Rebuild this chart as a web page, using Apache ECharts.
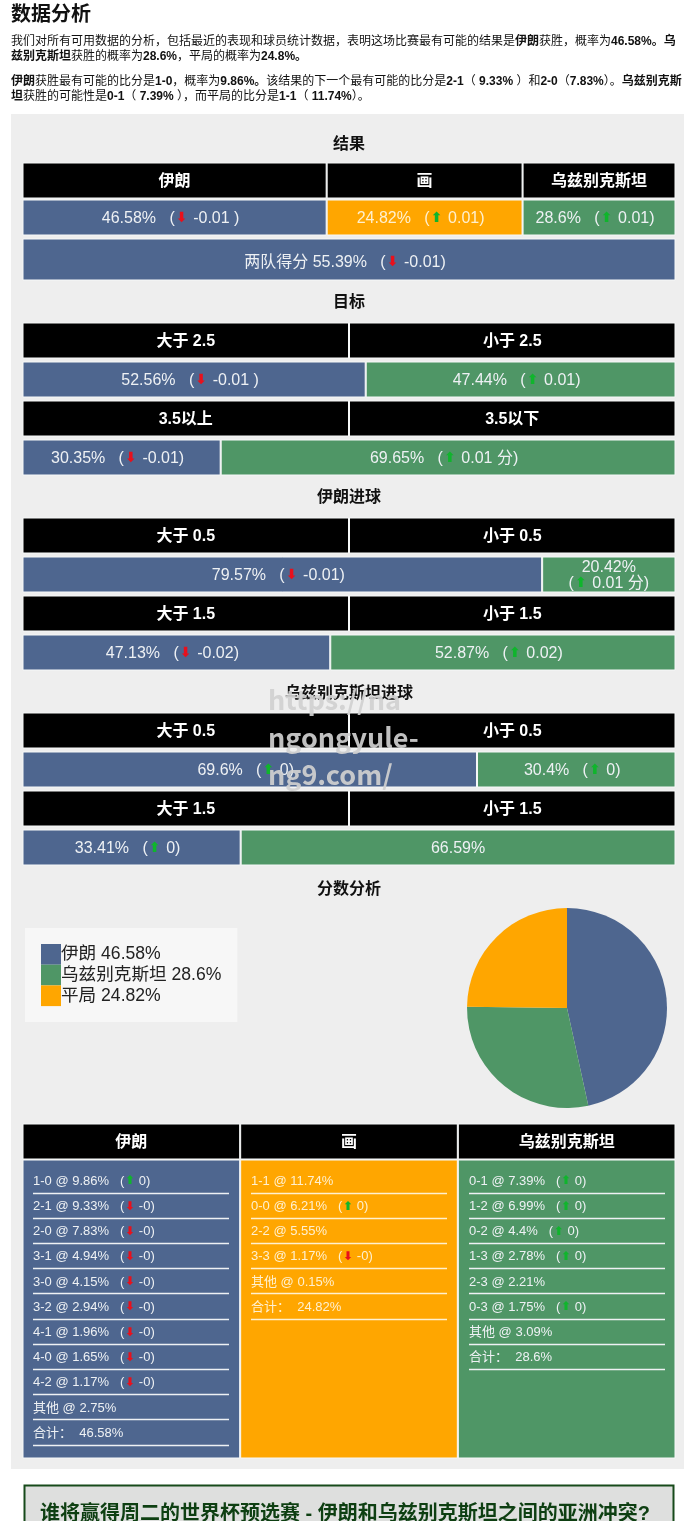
<!DOCTYPE html>
<html>
<head>
<meta charset="utf-8">
<title>数据分析</title>
<script src="https://cdn.jsdelivr.net/npm/echarts@6/dist/echarts.min.js"></script>
<style>
html,body{margin:0;padding:0;background:#fff;overflow:hidden}
#main{width:684px;height:1521px}
</style>
</head>
<body>
<div id="main"></div>
<script>
// 结果
const resultHeads = ['伊朗', '画', '乌兹别克斯坦'];
const resultValues = [46.58, 24.82, 28.6];
const resultDeltas = ['-0.01 )', '0.01)', '0.01)'];
// the source table stretches this row, its cells are not proportional to the values
const resultCellShares = [46.58, 30, 23.42];
const bothScoreValue = 55.39;
const bothScoreDelta = '-0.01)';

// 目标
const over25Heads = ['大于 2.5', '小于 2.5'];
const over25Values = [52.56, 47.44];
const over25Deltas = ['-0.01 )', '0.01)'];
const over35Heads = ['3.5以上', '3.5以下'];
const over35Values = [30.35, 69.65];
const over35Deltas = ['-0.01)', '0.01 分)'];

// 伊朗进球
const iranOver05Heads = ['大于 0.5', '小于 0.5'];
const iranOver05Values = [79.57, 20.42];
const iranOver05Deltas = ['-0.01)', '0.01 分)'];
const iranOver15Heads = ['大于 1.5', '小于 1.5'];
const iranOver15Values = [47.13, 52.87];
const iranOver15Deltas = ['-0.02)', '0.02)'];

// 乌兹别克斯坦进球
const uzbOver05Heads = ['大于 0.5', '小于 0.5'];
const uzbOver05Values = [69.6, 30.4];
const uzbOver05Deltas = ['0)', '0)'];
const uzbOver15Heads = ['大于 1.5', '小于 1.5'];
const uzbOver15Values = [33.41, 66.59];
const uzbOver15Deltas = ['0)', null];

// 分数分析
const pieNames = ['伊朗', '乌兹别克斯坦', '平局'];
const pieValues = [46.58, 28.6, 24.82];

const listHeads = ['伊朗', '画', '乌兹别克斯坦'];
const iranScores = ['1-0', '2-1', '2-0', '3-1', '3-0', '3-2', '4-1', '4-0', '4-2', '其他'];
const iranScoreValues = [9.86, 9.33, 7.83, 4.94, 4.15, 2.94, 1.96, 1.65, 1.17, 2.75];
const iranScoreDeltas = ['0)', '-0)', '-0)', '-0)', '-0)', '-0)', '-0)', '-0)', '-0)', null];
const iranTotal = 46.58;
const drawScores = ['1-1', '0-0', '2-2', '3-3', '其他'];
const drawScoreValues = [11.74, 6.21, 5.55, 1.17, 0.15];
const drawScoreDeltas = [null, '0)', null, '-0)', null];
const drawTotal = 24.82;
const uzbScores = ['0-1', '1-2', '0-2', '1-3', '2-3', '0-3', '其他'];
const uzbScoreValues = [7.39, 6.99, 4.4, 2.78, 2.21, 1.75, 3.09];
const uzbScoreDeltas = ['0)', '0)', '0)', '0)', null, '0)', null];
const uzbTotal = 28.6;

const BLUE = '#4e668f';
const GREEN = '#4f9666';
const ORANGE = '#ffa600';
const FONT = '"Liberation Sans","Noto Sans CJK SC",sans-serif';

const grids = [], xAxes = [], yAxes = [], series = [], graphics = [];

const arrowRich = {
    up: {color: '#0fb52c', fontFamily: 'DejaVu Sans', fontSize: 14, fontWeight: 'bold', width: 14, align: 'center'},
    down: {color: '#e8101c', fontFamily: 'DejaVu Sans', fontSize: 14, fontWeight: 'bold', width: 14, align: 'center'}
};

function deltaText(delta) {
    if (delta === null) return '';
    const arrow = delta.charAt(0) === '-' ? '{down|⬇}' : '{up|⬆}';
    return '   (' + arrow + ' ' + delta;
}

function textColor(fill) {
    return fill === ORANGE ? '#fff0cf' : '#eef1f4';
}

// one table row = one grid with a stacked horizontal bar
function addRow(top, height, shares, fills, labels, head, labelDy) {
    const idx = grids.length;
    grids.push({left: 22.5, top: top - 0.5, width: 653, height: height + 1});
    xAxes.push({gridIndex: idx, type: 'value', min: 0, max: shares.reduce((a, b) => a + b, 0), show: false});
    yAxes.push({gridIndex: idx, type: 'category', data: ['row'], show: false});
    shares.forEach((share, i) => {
        const oneLineDelta = labels[i].indexOf('{') >= 0 && labels[i].indexOf('\n') < 0;
        series.push({
            type: 'bar',
            name: 'row' + idx + '-' + i,
            xAxisIndex: idx,
            yAxisIndex: idx,
            stack: 'stack' + idx,
            barWidth: '100%',
            silent: true,
            data: [share],
            itemStyle: {color: fills[i], borderColor: '#f6f8f8', borderWidth: 1},
            label: {
                show: true,
                position: 'inside',
                formatter: labels[i],
                offset: [oneLineDelta ? -4 : 0, labelDy === undefined ? 1 : labelDy],
                fontFamily: FONT,
                fontSize: 16,
                lineHeight: 16,
                fontWeight: head ? 'bold' : 'normal',
                color: head ? '#fff' : textColor(fills[i]),
                rich: arrowRich
            }
        });
    });
}

function addHeadRow(top, heads, shares) {
    addRow(top, 35, shares || heads.map(() => 100 / heads.length), heads.map(() => '#000'), heads, true);
}

function addValueRow(top, values, deltas) {
    const labels = values.map((v, i) => v + '%' + deltaText(deltas[i]));
    addRow(top, 35, values, [BLUE, GREEN], labels, false);
}

function addText(x, y, text, opts) {
    graphics.push({
        type: 'text',
        x: x,
        y: y,
        z: (opts && opts.z) || 10,
        silent: true,
        style: Object.assign({
            text: text,
            fontFamily: FONT,
            fontSize: 12,
            fill: '#111',
            verticalAlign: 'middle',
            align: 'left'
        }, opts && opts.style)
    });
}

function addHeading(y, text) {
    addText(349, y + 2, text, {style: {fontSize: 16, fontWeight: 'bold', align: 'center', fill: '#111'}});
}

// score list column, the rows and their rules come from a category axis
function addList(left, fill, scores, values, deltas, total) {
    const idx = grids.length;
    const cats = scores.map((s, i) => s + ' @ ' + values[i] + '%' + deltaText(deltas[i]));
    cats.push('合计：  ' + total + '%');
    const color = textColor(fill);
    grids.push({left: left, top: 1167.6, width: 196, height: 25.2 * cats.length});
    xAxes.push({gridIndex: idx, type: 'value', min: 0, max: 1, show: false});
    yAxes.push({
        gridIndex: idx,
        type: 'category',
        inverse: true,
        data: cats,
        z: 5,
        axisLine: {show: false},
        axisTick: {show: false},
        axisLabel: {
            inside: true,
            interval: 0,
            margin: 0,
            align: 'left',
            padding: [2, 0, 0, 0],
            fontFamily: FONT,
            fontSize: 13,
            color: color,
            rich: {
                up: {color: '#0fb52c', fontFamily: 'DejaVu Sans', fontSize: 12, fontWeight: 'bold', width: 11, align: 'center'},
                down: {color: '#e8101c', fontFamily: 'DejaVu Sans', fontSize: 12, fontWeight: 'bold', width: 11, align: 'center'}
            }
        },
        splitLine: {show: true, interval: 0, showMinLine: false, lineStyle: {color: color, width: 1.3}}
    });
}

// panel background
graphics.push({type: 'rect', z: -5, silent: true, shape: {x: 11, y: 114, width: 673, height: 1355}, style: {fill: '#eeeeee'}});

// intro text
addText(11, 15, '数据分析', {style: {fontSize: 20, fontWeight: 'bold'}});
const boldRich = {b: {fontFamily: FONT, fontSize: 12, fontWeight: 'bold', fill: '#111'}};
addText(11, 42, '我们对所有可用数据的分析，包括最近的表现和球员统计数据，表明这场比赛最有可能的结果是{b|伊朗}获胜，概率为{b|46.58%。乌}', {style: {rich: boldRich}});
addText(11, 57, '{b|兹别克斯坦}获胜的概率为{b|28.6%}，平局的概率为{b|24.8%。}', {style: {rich: boldRich}});
addText(11, 82, '{b|伊朗}获胜最有可能的比分是{b|1-0}，概率为{b|9.86%。}该结果的下一个最有可能的比分是{b|2-1}（ {b|9.33%} ）和{b|2-0}（{b|7.83%}）。{b|乌兹别克斯}', {style: {rich: boldRich}});
addText(11, 97, '{b|坦}获胜的可能性是{b|0-1}（ {b|7.39%} ），而平局的比分是{b|1-1}（ {b|11.74%}）。', {style: {rich: boldRich}});

// 结果
addHeading(143, '结果');
addHeadRow(163, resultHeads, resultCellShares);
addRow(200, 35, resultCellShares, [BLUE, ORANGE, GREEN],
    resultValues.map((v, i) => v + '%' + deltaText(resultDeltas[i])), false);
addRow(239, 41, [100], [BLUE], ['两队得分 ' + bothScoreValue + '%' + deltaText(bothScoreDelta)], false, 3);

// 目标
addHeading(301, '目标');
addHeadRow(323, over25Heads);
addValueRow(362, over25Values, over25Deltas);
addHeadRow(401, over35Heads);
addValueRow(440, over35Values, over35Deltas);

// 伊朗进球
addHeading(496, '伊朗进球');
addHeadRow(518, iranOver05Heads);
addRow(557, 35, iranOver05Values, [BLUE, GREEN], [
    iranOver05Values[0] + '%' + deltaText(iranOver05Deltas[0]),
    iranOver05Values[1] + '%\n(' + deltaText(iranOver05Deltas[1]).replace('   (', '')
], false);
addHeadRow(596, iranOver15Heads);
addValueRow(635, iranOver15Values, iranOver15Deltas);

// 乌兹别克斯坦进球
addHeading(692, '乌兹别克斯坦进球');
addHeadRow(713, uzbOver05Heads);
addValueRow(752, uzbOver05Values, uzbOver05Deltas);
addHeadRow(791, uzbOver15Heads);
addValueRow(830, uzbOver15Values, uzbOver15Deltas);

// 分数分析
addHeading(888, '分数分析');

// score lists
addHeadRow(1124, listHeads);
addRow(1160, 298, listHeads.map(() => 100 / 3), [BLUE, ORANGE, GREEN], ['', '', ''], false);
addList(33, BLUE, iranScores, iranScoreValues, iranScoreDeltas, iranTotal);
addList(251, ORANGE, drawScores, drawScoreValues, drawScoreDeltas, drawTotal);
addList(469, GREEN, uzbScores, uzbScoreValues, uzbScoreDeltas, uzbTotal);

series.push({
    type: 'pie',
    name: 'score',
    center: [567, 1008],
    radius: 100,
    startAngle: 90,
    clockwise: true,
    silent: true,
    label: {show: false},
    labelLine: {show: false},
    data: pieNames.map((n, i) => ({name: n, value: pieValues[i], itemStyle: {color: [BLUE, GREEN, ORANGE][i]}}))
});

// bottom box
graphics.push({
    type: 'rect', z: 1, silent: true,
    shape: {x: 24.5, y: 1485.5, width: 649, height: 60},
    style: {fill: '#dedfde', stroke: '#174a1a', lineWidth: 2}
});
addText(40, 1514, '谁将赢得周二的世界杯预选赛 - 伊朗和乌兹别克斯坦之间的亚洲冲突?', {
    style: {fontSize: 20, fontWeight: 'bold', fill: '#0e3f12'}
});

// watermark
['https://na', 'ngongyule-', 'ng9.com/'].forEach((t, i) => {
    addText(268, 700 + i * 37.5, t, {
        z: 100,
        style: {fontFamily: '"Noto Sans CJK SC"', fontSize: 27, fontWeight: 'bold', fill: 'rgba(208,208,208,0.92)'}
    });
});

const chart = echarts.init(document.getElementById('main'));
chart.setOption({
    animation: false,
    backgroundColor: '#fff',
    grid: grids,
    xAxis: xAxes,
    yAxis: yAxes,
    legend: {
        left: 25,
        top: 928,
        orient: 'vertical',
        padding: 16,
        itemGap: 0,
        itemWidth: 20,
        itemHeight: 20.7,
        icon: 'rect',
        selectedMode: false,
        backgroundColor: '#f7f7f7',
        data: pieNames,
        formatter: name => name + ' ' + pieValues[pieNames.indexOf(name)] + '%',
        textStyle: {fontFamily: FONT, fontSize: 17.6, color: '#222', padding: [0, 0, 0, -5]}
    },
    series: series,
    graphic: graphics
});
</script>
</body>
</html>
